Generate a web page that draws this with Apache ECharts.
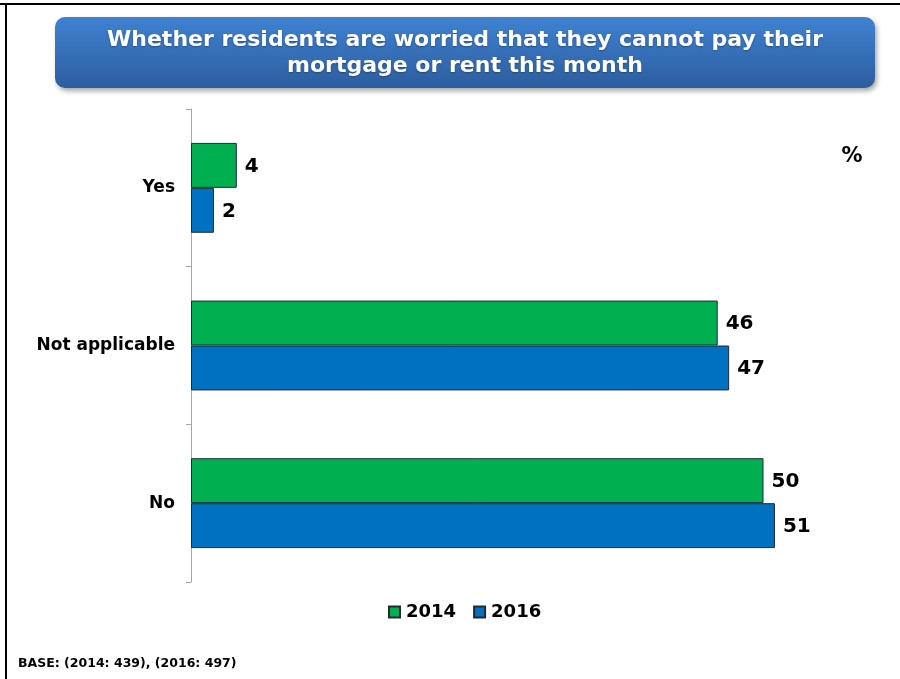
<!DOCTYPE html>
<html>
<head>
<meta charset="utf-8">
<script src="https://cdn.jsdelivr.net/npm/echarts@6/dist/echarts.min.js"></script>
<style>
  html, body { margin: 0; padding: 0; background: #ffffff; }
  #chart { width: 900px; height: 679px; }
</style>
</head>
<body>
<div id="chart"></div>
<script>
// Survey answers, top to bottom
const categories = ['Yes', 'Not applicable', 'No'];
const values2014 = [4, 46, 50];
const values2016 = [2, 47, 51];
const seriesNames = ['2014', '2016'];

const FONT = '"DejaVu Sans", Verdana, sans-serif';

const chart = echarts.init(document.getElementById('chart'), null, { renderer: 'canvas' });

function barSeries(name, data, color) {
  return {
    name: name,
    type: 'bar',
    data: data,
    barGap: '0%',
    barCategoryGap: '43%',
    itemStyle: { color: color, borderColor: '#1f2a33', borderWidth: 1 },
    label: {
      show: true,
      position: 'right',
      distance: 8,
      offset: [0, 1],
      fontFamily: FONT,
      fontWeight: 'bold',
      fontSize: 20,
      color: '#000000'
    }
  };
}

chart.setOption({
  animation: false,
  backgroundColor: '#ffffff',
  grid: { left: 191, top: 109, width: 687, bottom: 97, containLabel: false },
  xAxis: {
    type: 'value',
    min: 0,
    max: 60,
    show: false
  },
  yAxis: {
    type: 'category',
    data: categories,
    inverse: true,
    axisLine: { show: true, lineStyle: { color: '#a6a6a6', width: 1 } },
    axisTick: { show: true, length: 5, lineStyle: { color: '#a6a6a6' } },
    axisLabel: {
      margin: 16,
      fontFamily: FONT,
      fontWeight: 'bold',
      fontSize: 17,
      color: '#000000'
    },
    splitLine: { show: false }
  },
  legend: {
    data: seriesNames,
    left: 388,
    top: 603,
    padding: 0,
    itemWidth: 11,
    itemHeight: 11,
    itemGap: 17,
    icon: 'rect',
    textStyle: { fontFamily: FONT, fontWeight: 'bold', fontSize: 18, color: '#000000', padding: [0, 0, 0, 1] }
  },
  series: [
    barSeries(seriesNames[0], values2014, '#00b050'),
    barSeries(seriesNames[1], values2016, '#0070c0')
  ],
  graphic: [
    // slide frame edges
    { type: 'line', shape: { x1: 0, y1: 4, x2: 900, y2: 4 }, style: { stroke: '#000000', lineWidth: 2 } },
    { type: 'line', shape: { x1: 6, y1: 3, x2: 6, y2: 679 }, style: { stroke: '#000000', lineWidth: 2 } },
    // heading banner
    {
      type: 'rect',
      shape: { x: 55, y: 17, width: 820, height: 71, r: 10 },
      style: {
        fill: new echarts.graphic.LinearGradient(0, 0, 0, 1, [
          { offset: 0, color: '#3f82d2' },
          { offset: 1, color: '#2d5d9e' }
        ]),
        shadowBlur: 5,
        shadowOffsetX: 2,
        shadowOffsetY: 3,
        shadowColor: 'rgba(0,0,0,0.35)'
      },
      z: 10
    },
    {
      type: 'text',
      x: 465,
      y: 53,
      style: {
        text: 'Whether residents are worried that they cannot pay their\nmortgage or rent this month',
        fill: '#ffffff',
        fontFamily: FONT,
        fontWeight: 'bold',
        fontSize: 22,
        lineHeight: 26,
        align: 'center',
        verticalAlign: 'middle',
        textShadowColor: 'rgba(0,0,0,0.3)',
        textShadowBlur: 2,
        textShadowOffsetY: 1
      },
      z: 11
    },
    {
      type: 'text',
      x: 852,
      y: 157,
      style: {
        text: '%',
        fill: '#000000',
        fontFamily: FONT,
        fontWeight: 'bold',
        fontSize: 21,
        align: 'center',
        verticalAlign: 'middle'
      }
    },
    {
      type: 'text',
      x: 18,
      y: 664,
      style: {
        text: 'BASE: (2014: 439), (2016: 497)',
        fill: '#000000',
        fontFamily: FONT,
        fontWeight: 'bold',
        fontSize: 12.5,
        align: 'left',
        verticalAlign: 'middle'
      }
    }
  ]
});
</script>
</body>
</html>
